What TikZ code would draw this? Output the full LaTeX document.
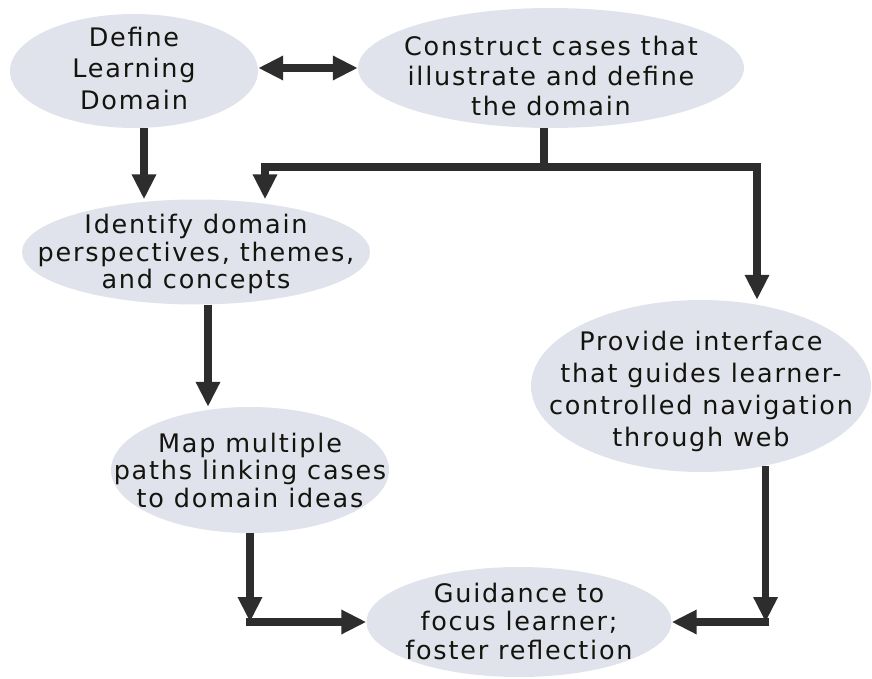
\documentclass[tikz,border=0pt]{standalone}
\usepackage{fontspec}
\setmainfont{DejaVu Sans}[LetterSpace=7]
\usetikzlibrary{shapes.geometric,arrows.meta,calc,positioning}
\usepackage{xcolor}
\newcommand{\arrwidth}{7.5pt}
\tikzset{
    ovalsty/.style={ellipse,fill=ovalgray,inner sep=0pt},
    textsty/.style={inner sep=0pt,align=center,text=textgray,font=\fontsize{25.5}{#1}\selectfont},
    textsty/.default=31.5,
    linesty/.style={draw=arrgray,line width=\arrwidth},
    arrsty/.style={linesty,-{Triangle[length=25pt,width=23pt]}},
    dblarrsty/.style={linesty,{Triangle[length=25pt,width=23pt]}-{Triangle[length=25pt,width=23pt]}},
}
\definecolor{ovalgray}{RGB}{224,227,235}
\definecolor{arrgray}{RGB}{45,45,45}
\definecolor{textgray}{RGB}{20,20,15}

\begin{document}
\begin{tikzpicture}[x=1pt,y=1pt]
  \useasboundingbox (0,0) rectangle (872,-679);

  \node[ovalsty, minimum width=248, minimum height=114] (define) at (134,-71) {};
  \node[ovalsty, minimum width=386, minimum height=120] (construct) at (551,-68) {};
  \node[ovalsty, minimum width=348, minimum height=105] (identify) at (196,-252) {};
  \node[ovalsty, minimum width=278, minimum height=126] (map) at (250,-470) {};
  \node[ovalsty, minimum width=340, minimum height=172] (provide) at (701,-386) {};
  \node[ovalsty, minimum width=305, minimum height=110] (guidance) at (519,-622) {};

  \node[textsty] (definetext) at ([yshift=3pt]define.center) {Define\\Learning\\Domain};
  \node[textsty=30] (constructtext) at ([yshift=-8pt]construct.center) {Construct cases that\\illustrate and define\\the domain};
  \node[textsty=27.5] (identifytext) at ([yshift=-2pt]identify.center) {Identify domain\\perspectives, themes,\\and concepts};
  \node[textsty=27.5] (maptext) at (map) {Map multiple\\paths linking cases\\to domain ideas};
  \node[textsty=32] (providetext) at ([yshift=-5pt]provide.center) {Provide interface\\that guides learner-\\controlled navigation\\through web};
  \node[textsty=28.5] (guidancetext) at ([yshift=1pt]guidance.center) {Guidance to\\focus learner;\\foster reflection};

  \draw[dblarrsty] (construct.west -| define.east) -- (construct.west);
  \draw[arrsty] ([xshift=10pt]define.south) -- ([xshift=10pt]define.south |- identify.north);

  \draw[linesty] ([xshift=-7pt]construct.south) -- ++(0,-39) coordinate (branch);
  \draw[arrsty] ([xshift=3.75pt]branch) -| ([xshift=69pt]identify.north);
  \draw[arrsty] ([xshift=-3.75pt]branch) -| ([xshift=56pt]provide.north);

  \draw[arrsty] ([xshift=12pt]identify.south) -- ([xshift=12pt]identify.south |- map.north);

  \coordinate (mapcorner) at (map.south |- guidance.west);
  \draw[arrsty] (map.south) -- (mapcorner);
  \draw[arrsty] ([xshift=-3.75pt]mapcorner) -- (guidance.west);

  \coordinate (webcorner) at (provide.-51 |- guidance.east);
  \draw[arrsty] (provide.-51) -- (webcorner);
  \draw[arrsty] ([xshift=3.75pt]webcorner) -- (guidance.east);
\end{tikzpicture}
\end{document}
